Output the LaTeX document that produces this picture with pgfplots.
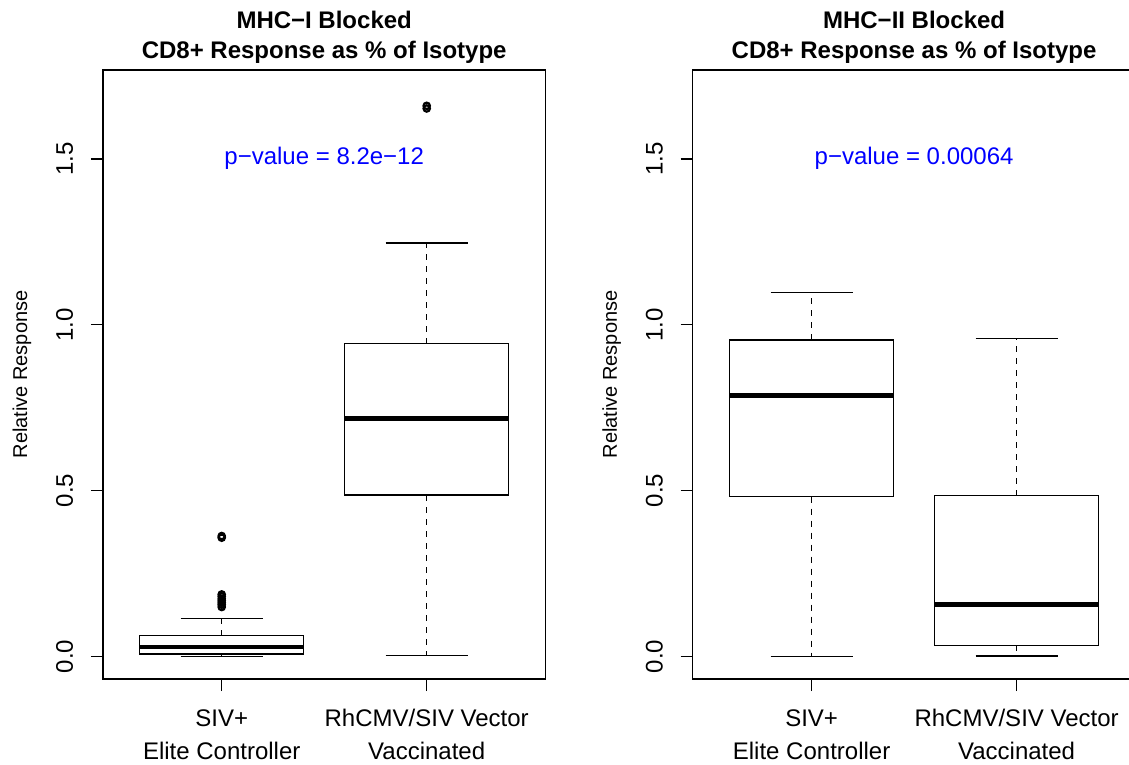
\documentclass[border=0pt]{standalone}
\usepackage{fontspec}
\setmainfont{Liberation Sans}
\usepackage{pgfplots}
\pgfplotsset{compat=1.18}
\usepgfplotslibrary{statistics}
\definecolor{rblue}{RGB}{0,0,255}
\pgfplotsset{
  rpanel/.style={
    scale only axis, width=221.4pt, height=304.5pt,
    xmin=0.42, xmax=2.58, ymin=-0.068, ymax=1.768,
    axis line style={line width=0.75pt},
    xtick={1,2}, ytick={0,0.5,1,1.5},
    yticklabels={0.0,0.5,1.0,1.5},
    xticklabels={{SIV+\\Elite Controller},{RhCMV/SIV Vector\\Vaccinated}},
    tick align=outside, tick pos=left, major tick length=6pt,
    every tick/.style={black, line width=0.75pt},
    xticklabel style={align=center, font=\fontsize{12}{16.5}\selectfont, anchor=north, inner sep=0pt, yshift=-9pt},
    yticklabel style={xshift=-9pt, rotate=90, anchor=base, inner sep=0pt, font=\fontsize{12}{14}\selectfont},
    ylabel={Relative Response},
    every axis y label/.style={at={([xshift=-37.9pt]axis description cs:0,0.5)}, rotate=90, anchor=base, inner sep=0pt, font=\fontsize{10}{12}\selectfont},
    every axis title shift=0pt,
    title style={align=center, font=\bfseries\fontsize{12}{15}\selectfont, at={(axis description cs:0.5,1)}, anchor=south, inner sep=0pt, yshift=3pt},
    clip=false,
  },
  rbox/.style={black, line width=0.75pt, mark=o, mark size=1.6pt, mark options={solid, line width=1.1pt}},
  /pgfplots/boxplot/draw direction=y,
  /pgfplots/boxplot/box extend=0.8,
  /pgfplots/boxplot/whisker extend=0.4,
  /pgfplots/boxplot/every median/.style={line width=2.25pt},
  /pgfplots/boxplot/draw/lower whisker/.code={%
    \draw[line width=0.75pt, dash pattern=on 3pt off 3pt]
      (boxplot cs:\pgfkeysvalueof{/pgfplots/boxplot/lower quartile}) --
      (boxplot cs:\pgfkeysvalueof{/pgfplots/boxplot/lower whisker});
    \draw[line width=0.75pt, solid]
      (boxplot whisker cs:\pgfkeysvalueof{/pgfplots/boxplot/lower whisker},0) --
      (boxplot whisker cs:\pgfkeysvalueof{/pgfplots/boxplot/lower whisker},1);
  },
  /pgfplots/boxplot/draw/upper whisker/.code={%
    \draw[line width=0.75pt, dash pattern=on 3pt off 3pt]
      (boxplot cs:\pgfkeysvalueof{/pgfplots/boxplot/upper quartile}) --
      (boxplot cs:\pgfkeysvalueof{/pgfplots/boxplot/upper whisker});
    \draw[line width=0.75pt, solid]
      (boxplot whisker cs:\pgfkeysvalueof{/pgfplots/boxplot/upper whisker},0) --
      (boxplot whisker cs:\pgfkeysvalueof{/pgfplots/boxplot/upper whisker},1);
  },
}
\begin{document}
\begin{tikzpicture}
\useasboundingbox (0pt,0pt) rectangle (564.5pt,382.5pt);
\clip (0pt,0pt) rectangle (564.5pt,382.5pt);
% Left panel
\begin{axis}[rpanel, at={(51.4pt,43pt)}, anchor=south west,
  title={MHC−I Blocked\\CD8+ Response as \% of Isotype}]
\addplot[rbox, boxplot prepared={draw position=1, lower whisker=0, lower quartile=0.007,
  median=0.028, upper quartile=0.063, upper whisker=0.114}]
  table[row sep=\\, y index=0] {data\\ 0.149\\ 0.156\\ 0.162\\ 0.168\\ 0.174\\ 0.181\\ 0.187\\ 0.358\\ 0.363\\};
\addplot[rbox, boxplot prepared={draw position=2, lower whisker=0.003, lower quartile=0.486,
  median=0.717, upper quartile=0.943, upper whisker=1.247}]
  table[row sep=\\, y index=0] {data\\ 1.652\\ 1.660\\};
\node[text=rblue, font=\fontsize{12}{14}\selectfont, anchor=base, inner sep=0pt] at (axis cs:1.5,1.482) {p−value = 8.2e−12};
\end{axis}
% Right panel
\begin{axis}[rpanel, at={(346.35pt,43pt)}, anchor=south west,
  title={MHC−II Blocked\\CD8+ Response as \% of Isotype}]
\addplot[rbox, boxplot prepared={draw position=1, lower whisker=0, lower quartile=0.482,
  median=0.786, upper quartile=0.954, upper whisker=1.097}]
  coordinates {};
\addplot[rbox, boxplot prepared={draw position=2, lower whisker=0.001, lower quartile=0.033,
  median=0.156, upper quartile=0.485, upper whisker=0.959}]
  coordinates {};
\node[text=rblue, font=\fontsize{12}{14}\selectfont, anchor=base, inner sep=0pt] at (axis cs:1.5,1.482) {p−value = 0.00064};
\end{axis}
\end{tikzpicture}
\end{document}
